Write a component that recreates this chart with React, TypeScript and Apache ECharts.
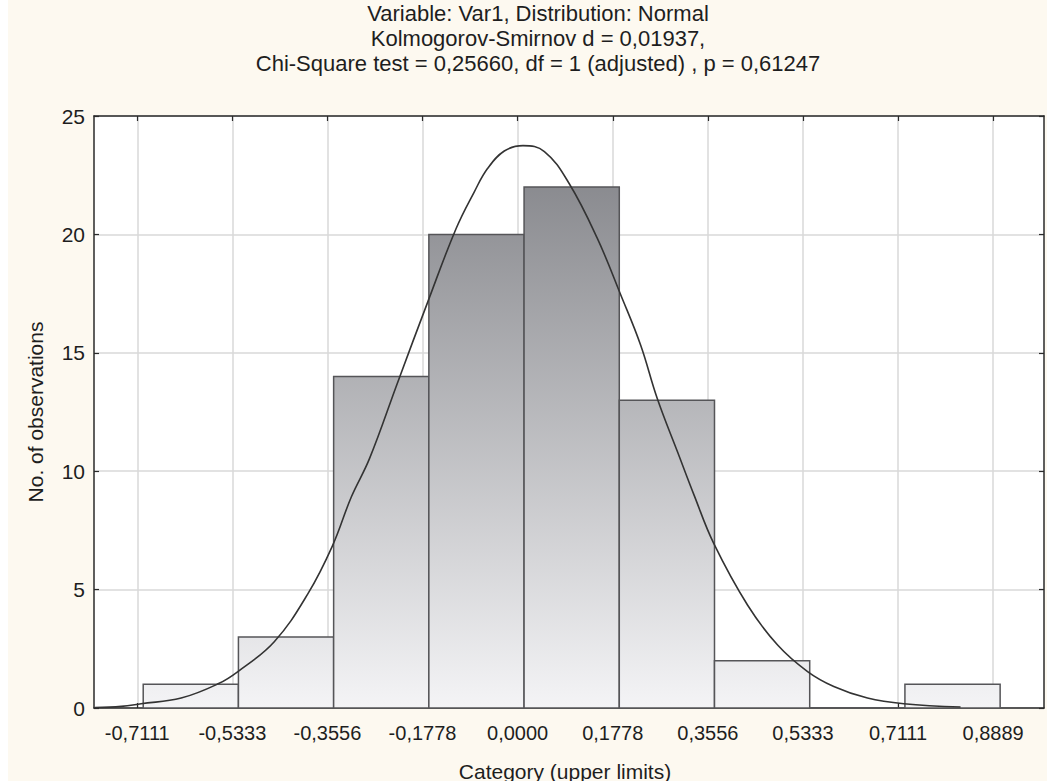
import React, { useEffect, useRef } from "react";
import * as echarts from "echarts";

// ---- data ----
const binEdges = [-0.7, -0.522, -0.344, -0.166, 0.012, 0.19, 0.368, 0.546, 0.724, 0.902];
const binCounts = [1, 3, 14, 20, 22, 13, 2, 0, 1];

const tickValues = [-0.7111, -0.5333, -0.3556, -0.1778, 0, 0.1778, 0.3556, 0.5333, 0.7111, 0.8889];
const tickLabels = ["-0,7111", "-0,5333", "-0,3556", "-0,1778", "0,0000", "0,1778", "0,3556", "0,5333", "0,7111", "0,8889"];

const curveX = [-0.79, -0.741, -0.704, -0.629, -0.56, -0.523, -0.455, -0.392, -0.346, -0.311, -0.277, -0.224, -0.168, -0.115, -0.081, -0.056, -0.025, 0.01, 0.05, 0.096, 0.149, 0.193, 0.23, 0.261, 0.299, 0.33, 0.367, 0.43, 0.486, 0.542, 0.591, 0.654, 0.722, 0.828];
const curveY = [0.02, 0.07, 0.18, 0.42, 1.02, 1.54, 2.8, 4.83, 6.86, 8.91, 10.53, 13.77, 17.15, 20.25, 21.8, 22.79, 23.52, 23.75, 23.5, 22.16, 19.83, 17.43, 15.32, 13.07, 10.81, 8.98, 6.93, 4.34, 2.66, 1.54, 0.91, 0.42, 0.18, 0.04];

const titleLines = [
  "Variable: Var1, Distribution: Normal",
  "Kolmogorov-Smirnov d = 0,01937,",
  "Chi-Square test = 0,25660, df = 1 (adjusted) , p = 0,61247",
];
const xTitle = "Category (upper limits)";
const yTitle = "No. of observations";

const FONT = "Arial, 'Liberation Sans', sans-serif";
const TEXT = "#1e1e1e";
const AXIS = "#2a2a2a";
const GRIDC = "#d9d9d9";

export default function App() {
  const ref = useRef<HTMLDivElement>(null);
  useEffect(() => {
    if (!ref.current) return;
    const chart = echarts.init(ref.current, undefined, { renderer: "svg" });
    const barData = binCounts.map((c, i) => [binEdges[i], binEdges[i + 1], c]);
    const curveData = curveX.map((x, i) => [x, curveY[i]]);
    const labelFmt = (v: number) => {
      const idx = tickValues.findIndex((t) => Math.abs(t - v) < 1e-6);
      return idx >= 0 ? tickLabels[idx] : "";
    };
    chart.setOption({
      animation: false,
      grid: { left: 94, right: 3, top: 116, bottom: 73, show: true, backgroundColor: "#ffffff", borderWidth: 0 },
      xAxis: [
        {
          type: "value",
          min: -0.792,
          max: 0.984,
          axisLine: { show: true, onZero: false, lineStyle: { color: AXIS, width: 1.5 } },
          axisTick: { show: true, inside: true, length: 5, customValues: tickValues, lineStyle: { color: AXIS, width: 1.2 } },
          axisLabel: { customValues: tickValues, formatter: labelFmt, color: TEXT, fontSize: 20, fontFamily: FONT, margin: 15 },
          splitLine: { show: true, lineStyle: { color: GRIDC, width: 1.5 } },
        },
        {
          type: "value",
          position: "top",
          min: -0.792,
          max: 0.984,
          axisLine: { show: true, onZero: false, lineStyle: { color: AXIS, width: 1.5 } },
          axisTick: { show: true, inside: true, length: 5, customValues: tickValues, lineStyle: { color: AXIS, width: 1.2 } },
          axisLabel: { show: false },
          splitLine: { show: false },
        },
      ],
      yAxis: [
        {
          type: "value",
          min: 0,
          max: 25,
          interval: 5,
          axisLine: { show: true, onZero: false, lineStyle: { color: AXIS, width: 1.5 } },
          axisTick: { show: true, inside: true, length: 5, lineStyle: { color: AXIS, width: 1.2 } },
          axisLabel: { color: TEXT, fontSize: 21, fontFamily: FONT, margin: 9 },
          splitLine: { show: true, lineStyle: { color: GRIDC, width: 1.5 } },
        },
        {
          type: "value",
          position: "right",
          min: 0,
          max: 25,
          interval: 5,
          axisLine: { show: true, onZero: false, lineStyle: { color: AXIS, width: 1.5 } },
          axisTick: { show: true, inside: true, length: 5, lineStyle: { color: AXIS, width: 1.2 } },
          axisLabel: { show: false },
          splitLine: { show: false },
        },
      ],
      graphic: [
        ...titleLines.map((t, i) => ({
          type: "text",
          x: 538,
          y: 13 + i * 25,
          style: { text: t, fill: TEXT, font: `22px ${FONT}`, textAlign: "center", textVerticalAlign: "middle" },
        })),
        {
          type: "text",
          x: 565,
          y: 771,
          style: { text: xTitle, fill: TEXT, font: `21px ${FONT}`, textAlign: "center", textVerticalAlign: "middle" },
        },
        {
          type: "text",
          x: 35,
          y: 412,
          rotation: Math.PI / 2,
          style: { text: yTitle, fill: TEXT, font: `21px ${FONT}`, textAlign: "center", textVerticalAlign: "middle" },
        },
      ],
      series: [
        {
          type: "custom",
          xAxisIndex: 0,
          yAxisIndex: 0,
          z: 3,
          data: barData,
          renderItem: (params: any, api: any) => {
            const p0 = api.coord([api.value(0), api.value(2)]);
            const p1 = api.coord([api.value(1), 0]);
            const yTop = api.coord([0, 25])[1];
            const yBot = api.coord([0, 0])[1];
            return {
              type: "rect",
              shape: { x: p0[0], y: p0[1], width: p1[0] - p0[0], height: p1[1] - p0[1] },
              style: {
                fill: new echarts.graphic.LinearGradient(0, yTop, 0, yBot, [
                  { offset: 0, color: "rgb(124,125,130)" },
                  { offset: 1, color: "rgb(244,244,246)" },
                ], true),
                stroke: "#555558",
                lineWidth: 1.5,
              },
            };
          },
        },
        {
          type: "line",
          xAxisIndex: 0,
          yAxisIndex: 0,
          z: 5,
          data: curveData,
          smooth: 0.4,
          symbol: "none",
          lineStyle: { color: "#333333", width: 1.6 },
        },
      ],
    });
    return () => chart.dispose();
  }, []);
  return (
    <div style={{ position: "absolute", left: 0, top: 0, width: 1047, height: 781, background: "#ffffff" }}>
      <div style={{ position: "absolute", left: 8, top: 0, right: 0, bottom: 0, background: "#fdf9f0" }} />
      <div ref={ref} style={{ position: "absolute", left: 0, top: 0, width: 1047, height: 781 }} />
    </div>
  );
}
